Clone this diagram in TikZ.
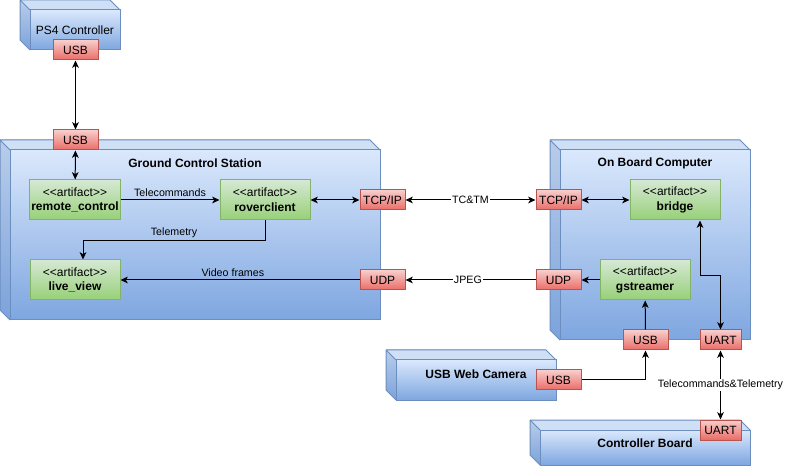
\documentclass[tikz,border=0pt]{standalone}
\usepackage{fontspec}
\setmainfont{Liberation Sans}[Ligatures=TeXOff]
\usetikzlibrary{arrows.meta,positioning,fit,calc}
\definecolor{devtop}{HTML}{DAE8FC}
\definecolor{devbot}{HTML}{7EA6E0}
\definecolor{devline}{HTML}{6C8EBF}
\definecolor{porttop}{HTML}{F8CECC}
\definecolor{portbot}{HTML}{EA6B66}
\definecolor{portline}{HTML}{B85450}
\definecolor{arttop}{HTML}{D5E8D4}
\definecolor{artbot}{HTML}{97D077}
\definecolor{artline}{HTML}{82B366}
\tikzset{
  >={Stealth[length=5.5pt,width=5pt,inset=1.5pt]},
  device/.style={draw=devline,top color=devtop,bottom color=devbot,inner sep=0pt,line width=0.75pt},
  top face/.style={top color=devtop!90!devline,bottom color=devtop!90!devline},
  side face/.style={top color=devtop!70!devline,bottom color=devbot!85!devline},
  port/.style={draw=portline,top color=porttop,bottom color=portbot,line width=0.75pt,
    minimum width=33.75pt,minimum height=15pt,inner sep=1pt,font=\small},
  artifact/.style={draw=artline,top color=arttop,bottom color=artbot,line width=0.75pt,
    minimum width=67.5pt,minimum height=30pt,inner sep=1pt,align=center,font=\small},
  title/.style={font=\small\bfseries},
  flow/.style={->,line width=0.75pt},
  both/.style={<->,line width=0.75pt},
  tag/.style={font=\footnotesize,fill=white,inner sep=1pt},
  note/.style={font=\footnotesize,above,inner sep=2pt},
}
\newcommand{\art}[1]{<<artifact>>\\\textbf{#1}}

\begin{document}
\begin{tikzpicture}[x=0.75pt,y=-0.75pt]
  \useasboundingbox (0,0) rectangle (785,466);
  % 3d boxes
  \foreach \n/\xa/\ya/\xb/\yb in {ps4/20/0/120/50, gcs/0/140/380/320, obc/550/140/750/340,
    cam/386/350/556/400, cb/530/420/750/465}
  {
    \fill[top face] (\xa,\ya) -- (\xb-10,\ya) -- (\xb,\ya+10) -- (\xa+10,\ya+10) -- cycle;
    \fill[side face] (\xa,\ya) -- (\xa+10,\ya+10) -- (\xa+10,\yb) -- (\xa,\yb-10) -- cycle;
    \node[device,fit={(\xa+10,\ya+10) (\xb,\yb)}] (\n) {};
    \draw[devline,line width=0.75pt,line join=round] (\xa,\ya) -- (\xb-10,\ya) -- (\xb,\ya+10)
      (\xa,\ya) -- (\xa+10,\ya+10) (\xa,\ya) -- (\xa,\yb-10) -- (\xa+10,\yb);
  }
  \node[font=\small] (ps4t) at (75,30) {PS4 Controller};
  \node[title] (gcst) at (195,163) {Ground Control Station};
  \node[title] (obct) at (655,163) {On Board Computer};
  \node[title] (camt) at (476,374) {USB Web Camera};
  \node[title] (cbt) at (645,443) {Controller Board};

  % ports
  \node[port] (ps4usb) at (75.5,50) {USB};
  \node[port] (gcsusb) at (75.5,140) {USB};
  \node[port] (gcstcp) at (382.5,200) {TCP/IP};
  \node[port] (gcsudp) at (382.5,280) {UDP};
  \node[port] (obctcp) at (558.5,200) {TCP/IP};
  \node[port] (obcudp) at (558.5,280) {UDP};
  \node[port] (obcusb) at (645.5,340) {USB};
  \node[port,minimum width=30.75pt] (obcuart) at (720.5,340) {UART};
  \node[port] (camusb) at (558.5,380) {USB};
  \node[port,minimum width=30.75pt] (cbuart) at (720.5,430) {UART};

  % artifacts
  \node[artifact] (rc) at (75,200) {\art{remote\_control}};
  \node[artifact] (rvc) at (265,200) {\art{roverclient}};
  \node[artifact] (lv) at (75,280) {\art{live\_view}};
  \node[artifact] (brg) at (675,200) {\art{bridge}};
  \node[artifact] (gst) at (645,280) {\art{gstreamer}};

  % connectors
  \draw[both] (ps4usb) -- (gcsusb);
  \draw[both] (gcsusb) -- (rc);
  \draw[flow] (rc) -- node[note]{Telecommands} (rvc);
  \draw[flow] (rvc.south) -- ++(0,20) -| node[note,pos=0.25]{Telemetry} ([xshift=6pt]lv.north);
  \draw[flow] (gcsudp) -- node[note,pos=0.53]{Video frames} (lv);
  \draw[both] (rvc) -- (gcstcp);
  \draw[both] (gcstcp) -- node[tag]{TC\&TM} (obctcp);
  \draw[flow] (obcudp) -- node[tag,pos=0.52]{JPEG} (gcsudp);
  \draw[both] (obctcp) -- (brg);
  \draw[flow] (gst) -- (obcudp);
  \draw[flow] (obcusb) -- (gst);
  \draw[both] ([xshift=18.75pt]brg.south) -- ++(0,55) -| (obcuart.north);
  \draw[flow] (camusb) -| (obcusb);
  \draw[both] (obcuart) -- node[tag]{Telecommands\&Telemetry} (cbuart);
\end{tikzpicture}
\end{document}
